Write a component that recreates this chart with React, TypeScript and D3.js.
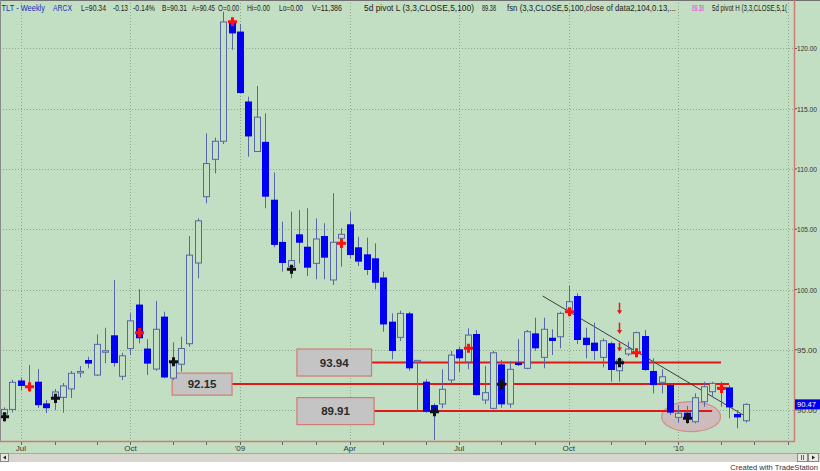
import React from "react";
import * as d3 from "d3";

// ---------- data (weekly TLT, Jun 2008 - Feb 2010) ----------
const startDate = new Date(2008, 5, 20);
const opens = [
  89.67, 90.05, 92.45, 92.0, 92.35, 90.55, 91.05, 91.05, 91.75, 93.1,
  94.15, 92.9, 94.85, 96.2, 92.8, 95.1, 98.75, 95.1, 93.4, 97.75,
  92.65, 93.8, 95.5, 102.2, 107.7, 110.8, 112.3, 122.15, 121.4, 115.6,
  111.45, 112.25, 107.45, 103.95, 101.9, 104.58, 103.55, 102.17, 104.44, 100.79,
  104.25, 105.41, 103.5, 102.92, 102.59, 101.0, 97.33, 96.03, 98.02, 94.05,
  92.35, 90.41, 90.5, 92.49, 95.04, 94.0, 96.31, 90.83, 90.14, 93.79,
  90.5, 93.93, 93.46, 96.36, 94.37, 96.0, 96.08, 98.36, 99.46, 96.0,
  95.59, 94.37, 95.54, 93.26, 94.65, 94.75, 96.14, 93.24, 92.3, 92.07,
  89.39, 89.78, 89.03, 90.69, 91.52, 91.85, 91.88, 89.67, 89.11,
];
const highs = [
  90.22, 92.5, 92.7, 93.73, 93.4, 90.83, 91.74, 92.24, 93.24, 93.65,
  94.42, 96.28, 96.83, 100.8, 94.75, 98.02, 100.02, 95.87, 99.05, 98.16,
  95.62, 96.08, 104.44, 105.9, 112.96, 112.6, 123.05, 122.5, 122.03, 116.0,
  116.89, 114.62, 109.7, 105.63, 106.46, 106.6, 106.74, 105.9, 105.5, 108.0,
  105.08, 106.46, 104.38, 104.3, 103.83, 101.48, 98.02, 98.24, 98.16, 94.15,
  92.55, 90.55, 93.38, 94.9, 95.25, 96.78, 96.64, 93.65, 94.9, 94.15,
  94.07, 95.87, 96.64, 97.66, 97.66, 96.7, 98.16, 100.3, 99.68, 96.83,
  97.24, 95.95, 95.67, 94.37, 95.67, 96.5, 96.64, 94.29, 93.38, 92.1,
  90.41, 90.33, 91.38, 92.35, 92.35, 92.35, 92.07, 90.0, 90.55,
];
const lows = [
  89.03, 89.8, 91.66, 91.5, 90.17, 89.75, 90.0, 89.78, 91.0, 92.7,
  93.46, 92.82, 93.88, 93.6, 92.49, 94.56, 95.53, 92.9, 93.26, 92.63,
  92.49, 93.18, 95.25, 100.93, 107.15, 109.64, 112.07, 119.88, 116.28, 111.02,
  111.44, 106.74, 103.5, 101.48, 100.93, 102.17, 101.12, 100.85, 100.85, 100.37,
  101.9, 102.59, 101.95, 101.2, 100.02, 96.5, 94.2, 95.73, 93.26, 89.86,
  89.78, 87.5, 90.14, 92.07, 93.18, 93.38, 91.2, 90.5, 90.06, 90.19,
  90.19, 93.65, 93.38, 94.92, 93.46, 94.56, 95.12, 97.9, 95.48, 94.29,
  94.15, 93.54, 92.35, 92.35, 94.48, 94.37, 93.26, 91.38, 91.38, 89.59,
  88.95, 88.84, 88.9, 90.27, 91.1, 90.27, 89.31, 88.48, 88.95,
];
const closes = [
  90.05, 92.3, 92.0, 91.9, 90.4, 90.15, 91.5, 92.0, 93.05, 93.2,
  93.85, 95.45, 94.92, 93.9, 94.5, 97.4, 95.95, 93.85, 96.7, 92.7,
  93.9, 95.1, 102.85, 105.7, 110.45, 112.3, 122.2, 121.25, 116.3, 112.7,
  114.3, 107.7, 103.7, 102.2, 102.4, 103.88, 101.81, 104.19, 102.64, 103.92,
  104.58, 102.86, 102.31, 101.62, 100.56, 97.1, 94.9, 98.02, 93.46, 94.12,
  89.86, 89.86, 91.72, 94.56, 94.29, 96.22, 91.24, 91.44, 94.75, 90.47,
  93.38, 93.73, 96.5, 95.12, 96.7, 95.73, 98.02, 98.99, 95.81, 95.39,
  94.9, 95.75, 93.32, 94.15, 95.06, 96.42, 93.32, 92.07, 92.76, 89.78,
  89.73, 89.39, 91.02, 91.93, 92.21, 91.75, 90.22, 89.39, 90.47,
];
// pivot markers: [bar index, price]
const pivotHighs = [[3, 91.93], [16, 96.42], [27, 122.22], [40, 103.83], [55, 95.12], [67, 98.16], [75, 94.75], [85, 91.8]];
const pivotLows = [[0, 89.44], [6, 90.97], [20, 94.0], [34, 101.68], [51, 89.86], [59, 92.13], [73, 93.93], [81, 89.31]];
// support / resistance levels
const levels = [93.94, 92.15, 89.91];
const levelBoxFrom = [34.75, 19.95, 34.75];
const levelBoxTo = [43.6, 27.05, 43.9];
const levelLineTo = [85.05, 86.0, 84.0];
// trend line [bar, price]
const trendLine = [[63.9, 99.46], [87.9, 89.5]];
// red arrows at bar 73: [top price, bottom price]
const arrowBar = 73;
const arrows = [[98.9, 97.95], [97.25, 96.3], [95.6, 94.85]];
// highlighted ellipse: [bar, price]
const ellipseCenter = [81.5, 89.45];
const priceTicks = [90, 95, 100, 105, 110, 115, 120];
const lastPrice = 90.47;
const monthNames = ["Jan", "Feb", "Mar", "Apr", "May", "Jun", "Jul", "Aug", "Sep", "Oct", "Nov", "Dec"];

const titleParts = [
  "TLT - Weekly", "ARCX", "L=90.34", "-0.13", "-0.14%", "B=90.31", "A=90.45", "O=0.00",
  "Hi=0.00", "Lo=0.00", "V=11,386", "5d pivot L (3,3,CLOSE,5,100)", "89.38",
  "fsn (3,3,CLOSE,5,100,close of data2,104,0.13,...", "89.38", "5d pivot H (3,3,CLOSE,5,1(",
];
const titleX0 = [1.5, 53, 81, 113, 133, 162, 192, 218, 247, 279, 312, 364, 482, 507, 692, 712];
const titleX1 = [45, 72, 106, 128, 155, 187, 215, 239, 270, 303, 342, 474, 496, 676, 704, 787];
const titleColor = ["#1c2cc0", "#1c2cc0", "#222", "#222", "#222", "#222", "#222", "#222", "#222", "#222", "#222", "#222", "#222", "#222", "#e23be2", "#222"];

const BG = "#c3dfc3";
const GRID = "#8ea88e";
const WICK = "#5666a6";
const DOWN = "#0000f4";
const AXISRED = "#d27a72";
const LINERED = "#e01818";

export default function App() {
  const N = opens.length;
  const plotR = 794;
  const plotB = 441;
  const x = d3.scaleLinear().domain([-0.4745, 93.71]).range([0, plotR]);
  const y = d3.scaleLinear().domain([87.43, 124.02]).range([plotB, 0]);

  const dateOf = (i: number) => d3.timeWeek.offset(startDate, i);
  const monthStarts: number[] = [];
  const quarterStarts: number[] = [];
  d3.range(0, 95).forEach((i) => {
    const d = dateOf(i);
    const p = dateOf(i - 1);
    if (d.getMonth() !== p.getMonth()) {
      monthStarts.push(i);
      if (d.getMonth() % 3 === 0) quarterStarts.push(i);
    }
  });
  const qLabel = (i: number) => {
    const d = dateOf(i);
    return d.getMonth() === 0 ? "'" + String(d.getFullYear()).slice(2) : monthNames[d.getMonth()];
  };

  const bw = 6;
  const sym = d3.symbol().type(d3.symbolCross).size(46);
  const ellipseRx = x(ellipseCenter[0] + 3.5) - x(ellipseCenter[0]);
  const ellipseRy = y(ellipseCenter[1] - 1.25) - y(ellipseCenter[1]);

  return (
    <div style={{ width: 820, height: 471 }}>
      <style>{`body{margin:0;}`}</style>
      <svg width={820} height={471} style={{ display: "block", fontFamily: '"Liberation Sans", Arial, sans-serif' }}>
        <defs>
          <clipPath id="plotClip">
            <rect x={0} y={0} width={plotR} height={plotB} />
          </clipPath>
        </defs>
        <rect x={0} y={0} width={820} height={471} fill="#ffffff" />
        <rect x={0} y={0} width={820} height={453} fill={BG} />

        {/* grid */}
        {priceTicks.map((p) => (
          <line key={"hg" + p} x1={0} x2={plotR} y1={Math.round(y(p)) + 0.5} y2={Math.round(y(p)) + 0.5}
            stroke={GRID} strokeDasharray="1,2" />
        ))}
        {quarterStarts.map((i) => (
          <line key={"vg" + i} x1={Math.round(x(i)) + 0.5} x2={Math.round(x(i)) + 0.5} y1={0} y2={plotB}
            stroke={GRID} strokeDasharray="1,2" />
        ))}

        {/* title */}
        {titleParts.map((t, k) => (
          <text key={"t" + k} x={titleX0[k]} y={11} fontSize={9.5} fill={titleColor[k]}
            textLength={titleX1[k] - titleX0[k]} lengthAdjust="spacingAndGlyphs">{t}</text>
        ))}

        <g clipPath="url(#plotClip)">
          {/* ellipse highlight */}
          <ellipse cx={x(ellipseCenter[0])} cy={y(ellipseCenter[1])} rx={ellipseRx} ry={ellipseRy}
            fill="#cdbcbc" stroke="#d68a8a" strokeWidth={1.2} />

          {/* level lines and boxes */}
          {levels.map((lv, k) => {
            const yy = y(lv);
            const bx0 = x(levelBoxFrom[k]);
            const bx1 = x(levelBoxTo[k]);
            const bh = k === 1 ? 22 : 27;
            return (
              <g key={"lv" + k}>
                <line x1={bx1} x2={x(levelLineTo[k])} y1={yy} y2={yy} stroke={LINERED} strokeWidth={2} />
                <rect x={bx0} y={yy - bh / 2} width={bx1 - bx0} height={bh} fill="#c4c4c4" stroke="#d27a72" strokeWidth={1.2} />
                <text x={(bx0 + bx1) / 2} y={yy + 4} textAnchor="middle" fontSize={11.5} fontWeight="bold" fill="#2a2a2a">
                  {lv.toFixed(2)}
                </text>
              </g>
            );
          })}

          {/* trend line */}
          <line x1={x(trendLine[0][0])} y1={y(trendLine[0][1])} x2={x(trendLine[1][0])} y2={y(trendLine[1][1])}
            stroke="#3c3c3c" strokeWidth={1} />

          {/* candles */}
          {d3.range(N).map((i) => {
            const cx = Math.round(x(i)) + 0.5;
            const up = closes[i] >= opens[i];
            const top = y(Math.max(opens[i], closes[i]));
            const bot = y(Math.min(opens[i], closes[i]));
            return (
              <g key={"c" + i}>
                <line x1={cx} x2={cx} y1={y(highs[i])} y2={y(lows[i])} stroke={WICK} strokeWidth={1} />
                {up ? (
                  <rect x={cx - bw / 2} y={top} width={bw} height={Math.max(bot - top, 1.5)} fill={BG} stroke={WICK} strokeWidth={1} />
                ) : (
                  <rect x={cx - bw / 2 - 0.5} y={top} width={bw + 1} height={Math.max(bot - top, 2)} fill={DOWN} />
                )}
              </g>
            );
          })}

          {/* pivot markers */}
          {pivotHighs.map(([i, p]) => (
            <path key={"ph" + i} d={sym() as string} transform={`translate(${Math.round(x(i)) + 0.5},${y(p)})`} fill="#ff1010" />
          ))}
          {pivotLows.map(([i, p]) => (
            <path key={"pl" + i} d={sym() as string} transform={`translate(${Math.round(x(i)) + 0.5},${y(p)})`} fill="#111" />
          ))}

          {/* arrows */}
          {arrows.map(([p0, p1], k) => {
            const ax = Math.round(x(arrowBar)) + 0.5;
            const y0 = y(p0);
            const y1 = y(p1);
            return (
              <g key={"ar" + k}>
                <line x1={ax} x2={ax} y1={y0} y2={y1 - 3} stroke="#e01818" strokeWidth={1.5} />
                <path d={`M${ax - 2.5},${y1 - 4}L${ax + 2.5},${y1 - 4}L${ax},${y1}Z`} fill="#e01818" />
              </g>
            );
          })}
        </g>

        {/* frame */}
        <line x1={0} x2={820} y1={0.5} y2={0.5} stroke="#707070" />
        <line x1={0.5} x2={0.5} y1={0} y2={plotB} stroke="#8a8a8a" />
        <line x1={plotR + 0.5} x2={plotR + 0.5} y1={0} y2={plotB} stroke={AXISRED} strokeWidth={1.5} />
        <line x1={0} x2={plotR + 1} y1={plotB + 0.5} y2={plotB + 0.5} stroke={AXISRED} strokeWidth={1.5} />

        {/* right price axis */}
        {priceTicks.map((p) => (
          <g key={"pt" + p}>
            <line x1={plotR + 1} x2={plotR + 3} y1={y(p)} y2={y(p)} stroke="#555" />
            <text x={797} y={y(p) + 3} fontSize={8} fill="#333" textLength={20} lengthAdjust="spacingAndGlyphs">{p.toFixed(2)}</text>
          </g>
        ))}
        <rect x={795} y={y(lastPrice) - 5} width={25} height={10} fill="#0000f0" />
        <text x={797} y={y(lastPrice) + 3} fontSize={8} fill="#ffffff" textLength={19} lengthAdjust="spacingAndGlyphs">{lastPrice.toFixed(2)}</text>

        {/* bottom time axis */}
        {monthStarts.map((i) => (
          <line key={"mt" + i} x1={Math.round(x(i)) + 0.5} x2={Math.round(x(i)) + 0.5} y1={plotB + 1} y2={plotB + 4} stroke="#666" />
        ))}
        {quarterStarts.filter((i) => x(i) < 780).map((i) => (
          <text key={"ql" + i} x={x(i)} y={450.5} fontSize={8} fill="#333" textAnchor="middle">{qLabel(i)}</text>
        ))}

        {/* scrollbar */}
        <rect x={0} y={453} width={820} height={9} fill="#d8d5ce" />
        <line x1={0} x2={820} y1={453.5} y2={453.5} stroke="#a8a8a8" />
        <rect x={0.5} y={453.5} width={8} height={8} fill="#ece9e2" stroke="#8a8a8a" />
        <path d="M6,455.5L3,457.5L6,459.5Z" fill="#222" />
        <rect x={797.5} y={453.5} width={10} height={8} fill="#ece9e2" stroke="#8a8a8a" />
        <line x1={801.5} x2={801.5} y1={455} y2={460} stroke="#666" />
        <line x1={803.5} x2={803.5} y1={455} y2={460} stroke="#666" />
        <rect x={808.5} y={453.5} width={10} height={8} fill="#ece9e2" stroke="#8a8a8a" />
        <path d="M812,455.5L815,457.5L812,459.5Z" fill="#222" />
        <text x={818} y={469.5} fontSize={7.6} fill="#333" textAnchor="end">Created with TradeStation</text>
      </svg>
    </div>
  );
}
